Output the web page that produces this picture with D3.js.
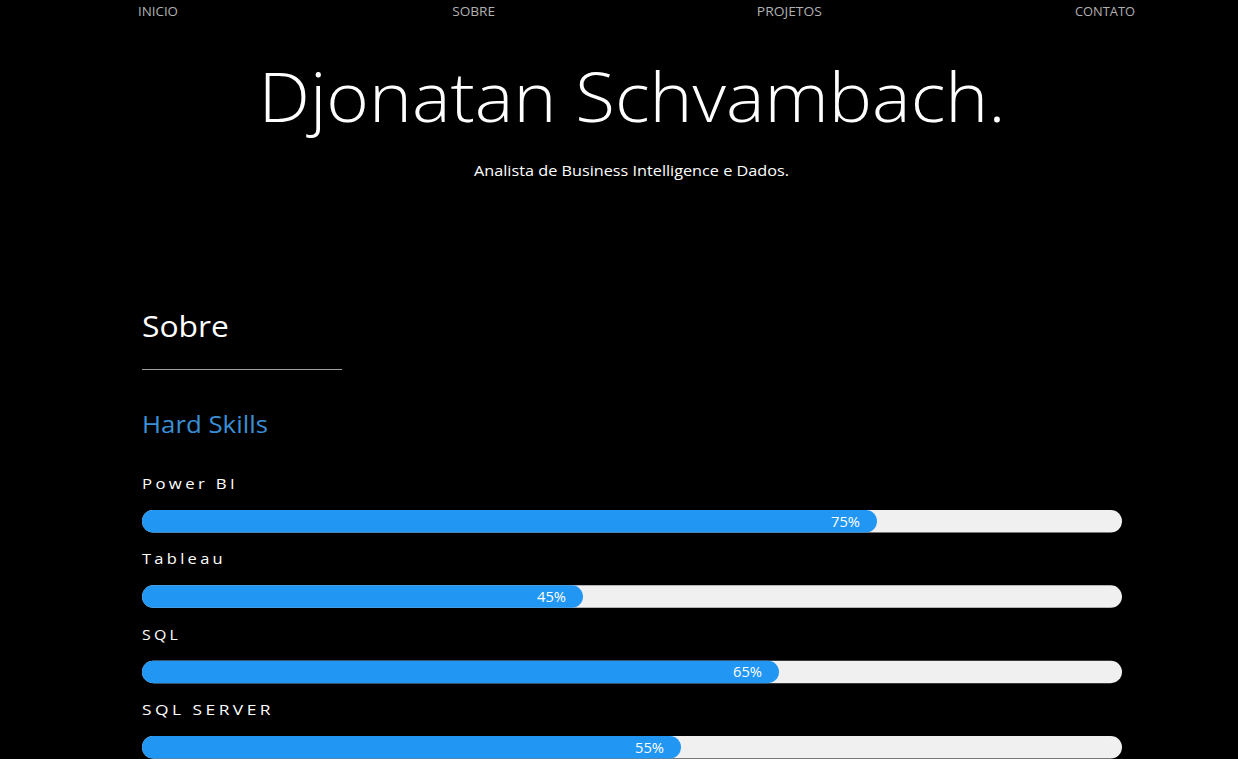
<!DOCTYPE html>
<html><head><meta charset="utf-8">
<script src="https://cdn.jsdelivr.net/npm/d3@7"></script>
<style>
html,body{margin:0;padding:0;background:#000;overflow:hidden;}
svg{display:block;}
text{font-family:"Open Sans","Noto Sans",sans-serif;}
</style></head>
<body>
<script>
const navItems = ["INICIO","SOBRE","PROJETOS","CONTATO"];
const skills = ["Power BI","Tableau","SQL","SQL SERVER"];
const values = [75,45,65,55];
const titleText = "Djonatan Schvambach.";
const subtitleText = "Analista de Business Intelligence e Dados.";

const W = 1238, H = 759;
const svg = d3.select("body").append("svg").attr("width",W).attr("height",H);
svg.append("rect").attr("width",W).attr("height",H).attr("fill","#000");

// nav
const navX = d3.scalePoint().domain(navItems).range([158,1105]);
const navW = {"INICIO":40,"SOBRE":43,"PROJETOS":65,"CONTATO":60};
svg.selectAll("text.nav").data(navItems).join("text")
  .attr("class","nav")
  .attr("x",d=>navX(d)).attr("y",16)
  .attr("text-anchor","middle")
  .attr("font-size",12.5).attr("fill","#b0b0b0")
  .attr("textLength",d=>navW[d]).attr("lengthAdjust","spacingAndGlyphs")
  .text(d=>d);

// title
svg.append("text").attr("x",632).attr("y",122).attr("text-anchor","middle")
  .attr("font-size",68).attr("font-weight",300).attr("fill","#fff")
  .attr("textLength",747).attr("lengthAdjust","spacingAndGlyphs")
  .text(titleText);
svg.append("text").attr("x",631.5).attr("y",176).attr("text-anchor","middle")
  .attr("font-size",15).attr("fill","#fff")
  .attr("textLength",315).attr("lengthAdjust","spacingAndGlyphs")
  .text(subtitleText);

// section
svg.append("text").attr("x",142).attr("y",337).attr("font-size",30).attr("fill","#fff")
  .attr("textLength",87).attr("lengthAdjust","spacingAndGlyphs").text("Sobre");
svg.append("line").attr("x1",142).attr("x2",342).attr("y1",369.5).attr("y2",369.5)
  .attr("stroke","#a0a0a0").attr("stroke-width",1);
svg.append("text").attr("x",142).attr("y",433).attr("font-size",24).attr("fill","#3a8fd6")
  .attr("textLength",126).attr("lengthAdjust","spacingAndGlyphs").text("Hard Skills");

// bars
const x = d3.scaleLinear().domain([0,100]).range([142,1122]);
const y = d3.scaleLinear().domain([0,3]).range([510,736]);
const barH = 22.5;
const labelW = {"Power BI":96,"Tableau":84,"SQL":39,"SQL SERVER":132};

const g = svg.selectAll("g.skill").data(skills.map((s,i)=>({s,v:values[i],i}))).join("g").attr("class","skill");
g.append("text").attr("x",x(0)).attr("y",d=>y(d.i)-21)
  .attr("font-size",15).attr("font-weight",500).attr("fill","#fff")
  .style("letter-spacing","3px")
  .attr("textLength",d=>labelW[d.s]).attr("lengthAdjust","spacingAndGlyphs")
  .text(d=>d.s);
g.append("rect").attr("x",x(0)).attr("y",d=>y(d.i)).attr("width",x(100)-x(0)).attr("height",barH)
  .attr("rx",barH/2).attr("fill","#f0f0f0");
g.append("rect").attr("x",x(0)).attr("y",d=>y(d.i)).attr("width",d=>x(d.v)-x(0)).attr("height",barH)
  .attr("rx",barH/2).attr("fill","#2196f3");
g.append("text").attr("x",d=>x(d.v)-17).attr("y",d=>y(d.i)+16.5)
  .attr("text-anchor","end").attr("font-size",14.5).attr("fill","#fff")
  .attr("textLength",29).attr("lengthAdjust","spacingAndGlyphs")
  .text(d=>d.v+"%");
</script>
</body></html>
